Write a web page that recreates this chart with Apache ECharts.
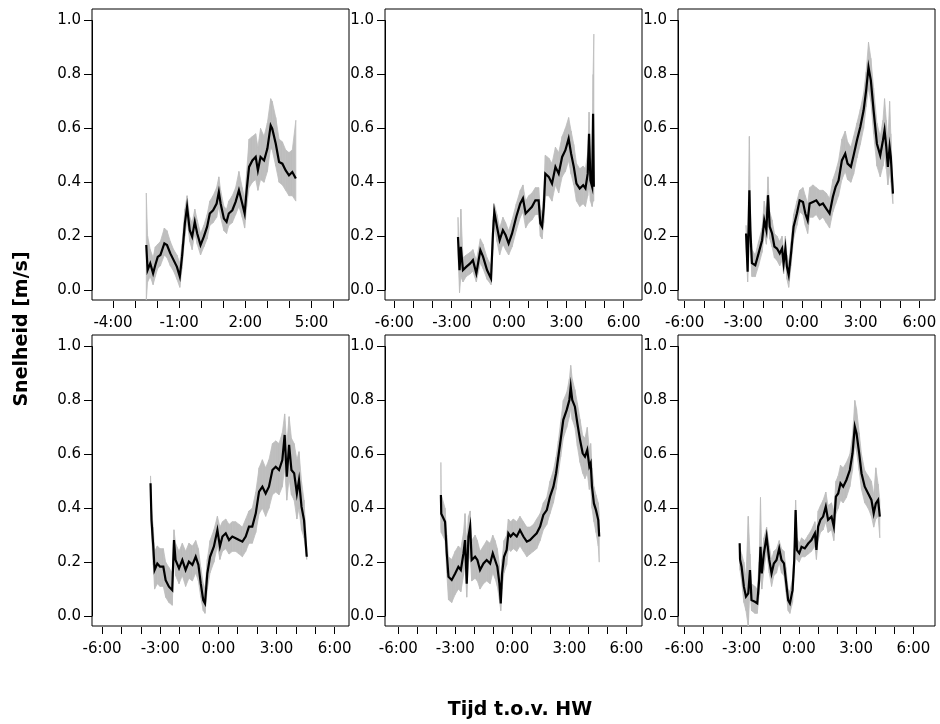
<!DOCTYPE html>
<html>
<head>
<meta charset="utf-8">
<script src="https://cdn.jsdelivr.net/npm/echarts@6/dist/echarts.min.js"></script>
<style>
    html, body {margin: 0; background: #fff}
    #chart {width: 940px; height: 724px}
</style>
</head>
<body>
<div id="chart"></div>
<script>
// tijd t.o.v. HW (uur), gemiddelde snelheid en grijze band (onder/boven) per paneel
var t1 = [-2.49,-2.43,-2.31,-2.18,-2.08,-1.97,-1.85,-1.67,-1.55,-1.40,-1.25,-1.10,-0.97,-0.87,-0.74,-0.64,-0.52,-0.41,-0.29,-0.18,-0.03,0.12,0.27,0.39,0.54,0.70,0.80,0.88,1.03,1.15,1.25,1.41,1.56,1.71,1.86,1.97,2.06,2.17,2.32,2.47,2.57,2.69,2.85,3.00,3.15,3.22,3.38,3.53,3.68,3.83,3.98,4.13,4.29]
var m1 = [0.167,0.074,0.099,0.062,0.093,0.123,0.130,0.173,0.167,0.136,0.111,0.086,0.050,0.123,0.247,0.309,0.222,0.198,0.253,0.210,0.167,0.198,0.235,0.284,0.296,0.321,0.364,0.321,0.265,0.253,0.284,0.296,0.327,0.370,0.321,0.284,0.370,0.457,0.481,0.494,0.444,0.494,0.481,0.525,0.611,0.599,0.543,0.475,0.469,0.444,0.426,0.438,0.414]
var hi1 = [0.36,0.20,0.15,0.12,0.16,0.17,0.18,0.23,0.22,0.18,0.15,0.13,0.10,0.17,0.30,0.35,0.27,0.25,0.30,0.26,0.21,0.24,0.28,0.33,0.35,0.38,0.42,0.37,0.31,0.30,0.33,0.35,0.38,0.44,0.38,0.34,0.44,0.56,0.57,0.58,0.53,0.60,0.57,0.62,0.71,0.70,0.64,0.56,0.55,0.52,0.51,0.52,0.63]
var lo1 = [-0.04,0.03,0.05,0.02,0.05,0.08,0.09,0.13,0.12,0.09,0.07,0.04,0.01,0.08,0.20,0.26,0.18,0.15,0.21,0.17,0.13,0.16,0.19,0.24,0.25,0.27,0.31,0.27,0.22,0.21,0.24,0.25,0.28,0.31,0.27,0.23,0.31,0.38,0.40,0.41,0.37,0.41,0.40,0.44,0.53,0.52,0.46,0.40,0.39,0.37,0.35,0.35,0.33]

var t2 = [-2.67,-2.59,-2.52,-2.41,-2.24,-2.03,-1.89,-1.71,-1.50,-1.36,-1.15,-0.94,-0.84,-0.77,-0.63,-0.49,-0.32,-0.18,-0.02,0.16,0.38,0.59,0.73,0.87,1.03,1.20,1.38,1.55,1.64,1.73,1.82,1.90,2.08,2.25,2.43,2.60,2.78,2.95,3.12,3.25,3.39,3.53,3.70,3.88,4.00,4.12,4.19,4.26,4.35,4.40,4.44]
var m2 = [0.197,0.074,0.160,0.074,0.086,0.099,0.111,0.062,0.148,0.124,0.074,0.043,0.210,0.290,0.235,0.185,0.222,0.204,0.173,0.210,0.272,0.321,0.340,0.284,0.296,0.309,0.333,0.333,0.247,0.235,0.309,0.432,0.420,0.395,0.457,0.432,0.494,0.519,0.562,0.506,0.457,0.395,0.377,0.389,0.377,0.432,0.580,0.407,0.383,0.654,0.383]
var hi2 = [0.27,0.12,0.30,0.12,0.13,0.14,0.15,0.11,0.19,0.17,0.12,0.09,0.26,0.32,0.28,0.23,0.27,0.25,0.22,0.26,0.32,0.37,0.39,0.33,0.35,0.36,0.38,0.38,0.30,0.29,0.37,0.50,0.49,0.47,0.53,0.51,0.57,0.60,0.64,0.59,0.54,0.47,0.45,0.46,0.45,0.51,0.66,0.49,0.47,0.80,0.95]
var lo2 = [0.13,-0.01,0.05,0.03,0.05,0.06,0.07,0.03,0.10,0.08,0.04,0.02,0.15,0.24,0.18,0.13,0.17,0.15,0.13,0.16,0.22,0.27,0.29,0.23,0.25,0.26,0.28,0.28,0.20,0.19,0.25,0.35,0.35,0.33,0.39,0.36,0.42,0.44,0.48,0.43,0.39,0.33,0.31,0.32,0.31,0.35,0.40,0.33,0.31,0.33,0.33]

var t3 = [-2.86,-2.78,-2.69,-2.64,-2.56,-2.39,-2.22,-2.04,-1.93,-1.82,-1.74,-1.65,-1.53,-1.41,-1.28,-1.14,-1.02,-0.94,-0.85,-0.77,-0.68,-0.56,-0.43,-0.26,-0.12,0.05,0.17,0.29,0.39,0.56,0.73,0.90,1.07,1.24,1.41,1.58,1.72,1.87,2.04,2.21,2.33,2.50,2.64,2.81,2.98,3.15,3.28,3.40,3.52,3.66,3.83,4.00,4.14,4.22,4.31,4.39,4.48,4.54,4.65]
var m3 = [0.21,0.068,0.37,0.22,0.10,0.092,0.136,0.185,0.259,0.222,0.352,0.235,0.21,0.161,0.154,0.136,0.154,0.099,0.154,0.086,0.056,0.136,0.235,0.284,0.333,0.327,0.284,0.259,0.321,0.327,0.333,0.315,0.321,0.302,0.284,0.346,0.383,0.407,0.481,0.506,0.469,0.457,0.50,0.556,0.605,0.667,0.741,0.827,0.778,0.667,0.543,0.50,0.556,0.593,0.531,0.457,0.531,0.494,0.358]
var hi3 = [0.24,0.15,0.57,0.30,0.15,0.13,0.18,0.23,0.33,0.28,0.42,0.29,0.26,0.21,0.20,0.18,0.20,0.15,0.20,0.13,0.10,0.18,0.28,0.33,0.37,0.38,0.35,0.32,0.38,0.39,0.38,0.37,0.37,0.36,0.34,0.41,0.44,0.48,0.56,0.59,0.55,0.53,0.57,0.62,0.67,0.73,0.81,0.92,0.86,0.75,0.62,0.57,0.63,0.71,0.63,0.55,0.70,0.58,0.38]
var lo3 = [0.16,0.03,0.20,0.16,0.05,0.05,0.09,0.14,0.21,0.17,0.27,0.19,0.16,0.12,0.11,0.09,0.11,0.06,0.11,0.04,0.01,0.09,0.19,0.24,0.29,0.28,0.24,0.21,0.27,0.27,0.28,0.26,0.27,0.25,0.23,0.29,0.32,0.35,0.41,0.44,0.41,0.40,0.43,0.49,0.54,0.60,0.68,0.75,0.70,0.58,0.46,0.42,0.46,0.50,0.45,0.39,0.44,0.40,0.32]

var t4 = [-3.50,-3.45,-3.36,-3.29,-3.15,-3.01,-2.84,-2.72,-2.55,-2.38,-2.29,-2.21,-2.03,-1.86,-1.69,-1.52,-1.34,-1.17,-1.03,-0.91,-0.78,-0.69,-0.57,-0.43,-0.23,-0.05,0.08,0.21,0.38,0.55,0.72,0.89,1.07,1.24,1.41,1.58,1.75,1.93,2.10,2.27,2.44,2.61,2.79,2.96,3.13,3.30,3.42,3.53,3.65,3.77,3.91,4.05,4.16,4.29,4.42,4.56]
var m4 = [0.493,0.356,0.26,0.171,0.195,0.183,0.183,0.133,0.109,0.096,0.282,0.208,0.177,0.208,0.171,0.202,0.19,0.220,0.19,0.121,0.059,0.047,0.158,0.22,0.258,0.319,0.258,0.295,0.307,0.282,0.295,0.289,0.282,0.276,0.295,0.332,0.332,0.381,0.462,0.480,0.455,0.480,0.542,0.554,0.542,0.579,0.672,0.517,0.635,0.542,0.530,0.455,0.505,0.406,0.356,0.220]
var hi4 = [0.52,0.40,0.33,0.24,0.26,0.25,0.25,0.20,0.18,0.16,0.32,0.27,0.24,0.27,0.24,0.27,0.26,0.28,0.25,0.18,0.12,0.10,0.21,0.28,0.32,0.37,0.33,0.35,0.36,0.34,0.35,0.35,0.34,0.33,0.36,0.39,0.40,0.46,0.55,0.58,0.55,0.58,0.64,0.65,0.64,0.68,0.75,0.64,0.74,0.66,0.64,0.58,0.61,0.50,0.43,0.25]
var lo4 = [0.47,0.30,0.19,0.10,0.12,0.11,0.11,0.07,0.05,0.04,0.22,0.15,0.12,0.15,0.11,0.14,0.13,0.16,0.13,0.07,0.02,0.01,0.10,0.16,0.20,0.26,0.21,0.24,0.25,0.23,0.24,0.24,0.23,0.22,0.24,0.27,0.27,0.31,0.38,0.40,0.37,0.40,0.45,0.46,0.45,0.48,0.55,0.43,0.51,0.45,0.43,0.36,0.40,0.32,0.29,0.21]

var t5 = [-3.76,-3.74,-3.54,-3.45,-3.36,-3.19,-3.01,-2.84,-2.71,-2.57,-2.49,-2.40,-2.31,-2.22,-2.14,-1.96,-1.84,-1.70,-1.52,-1.35,-1.17,-1.03,-0.91,-0.79,-0.68,-0.61,-0.54,-0.44,-0.30,-0.21,-0.09,0.05,0.23,0.40,0.58,0.76,0.93,1.11,1.28,1.46,1.63,1.81,1.98,2.16,2.30,2.42,2.54,2.68,2.86,3.00,3.07,3.15,3.29,3.42,3.56,3.70,3.82,3.94,4.05,4.12,4.19,4.29,4.40,4.52,4.57]
var m5 = [0.449,0.380,0.350,0.233,0.146,0.134,0.158,0.183,0.171,0.233,0.282,0.120,0.295,0.332,0.208,0.220,0.208,0.171,0.195,0.208,0.195,0.233,0.208,0.183,0.120,0.047,0.158,0.220,0.245,0.307,0.295,0.307,0.295,0.319,0.295,0.276,0.282,0.295,0.307,0.332,0.375,0.393,0.443,0.480,0.530,0.592,0.654,0.728,0.765,0.802,0.851,0.802,0.777,0.715,0.654,0.604,0.592,0.617,0.555,0.567,0.480,0.418,0.393,0.356,0.295]
var hi5 = [0.57,0.45,0.40,0.30,0.22,0.21,0.24,0.26,0.25,0.31,0.38,0.27,0.37,0.39,0.28,0.30,0.28,0.24,0.26,0.28,0.27,0.30,0.28,0.25,0.19,0.12,0.21,0.28,0.30,0.36,0.35,0.36,0.35,0.37,0.35,0.33,0.33,0.34,0.36,0.38,0.42,0.44,0.50,0.54,0.59,0.65,0.72,0.80,0.83,0.88,0.93,0.88,0.84,0.79,0.73,0.67,0.66,0.70,0.62,0.64,0.55,0.48,0.45,0.42,0.38]
var lo5 = [0.33,0.31,0.28,0.16,0.06,0.05,0.08,0.10,0.09,0.15,0.19,0.07,0.20,0.23,0.13,0.14,0.13,0.10,0.12,0.13,0.12,0.16,0.14,0.11,0.06,0.02,0.10,0.16,0.19,0.25,0.24,0.25,0.24,0.26,0.24,0.22,0.23,0.24,0.25,0.28,0.32,0.34,0.38,0.42,0.47,0.53,0.59,0.66,0.70,0.74,0.77,0.73,0.70,0.63,0.57,0.53,0.51,0.53,0.47,0.48,0.40,0.35,0.31,0.26,0.20]

var t6 = [-3.10,-3.08,-3.00,-2.88,-2.77,-2.65,-2.56,-2.48,-2.30,-2.18,-2.08,-2.01,-1.94,-1.83,-1.69,-1.55,-1.43,-1.31,-1.17,-1.03,-0.91,-0.78,-0.68,-0.56,-0.47,-0.33,-0.24,-0.17,-0.10,0.02,0.14,0.31,0.49,0.66,0.84,0.92,1.01,1.13,1.27,1.41,1.53,1.71,1.83,1.94,2.06,2.18,2.32,2.49,2.67,2.81,2.93,3.02,3.16,3.28,3.45,3.63,3.80,3.92,4.03,4.15,4.24]
var m6 = [0.270,0.210,0.183,0.109,0.072,0.084,0.171,0.059,0.053,0.047,0.133,0.257,0.158,0.233,0.295,0.208,0.158,0.195,0.208,0.251,0.208,0.195,0.133,0.059,0.047,0.096,0.208,0.393,0.245,0.233,0.257,0.251,0.269,0.282,0.307,0.245,0.332,0.357,0.369,0.406,0.357,0.369,0.332,0.443,0.455,0.493,0.480,0.505,0.542,0.604,0.703,0.678,0.604,0.530,0.480,0.455,0.431,0.381,0.418,0.431,0.369]
var hi6 = [0.27,0.25,0.23,0.20,0.14,0.37,0.23,0.12,0.11,0.10,0.20,0.44,0.22,0.29,0.33,0.26,0.21,0.24,0.25,0.28,0.25,0.24,0.18,0.10,0.09,0.14,0.25,0.43,0.29,0.27,0.29,0.28,0.30,0.32,0.35,0.30,0.39,0.41,0.43,0.46,0.41,0.42,0.39,0.50,0.52,0.56,0.55,0.57,0.60,0.67,0.80,0.77,0.68,0.60,0.54,0.52,0.50,0.45,0.55,0.49,0.43]
var lo6 = [0.20,0.17,0.13,0.05,0.02,-0.04,0.10,0.02,0.01,0.01,0.08,0.18,0.10,0.17,0.24,0.16,0.11,0.15,0.16,0.20,0.16,0.15,0.09,0.02,0.01,0.05,0.16,0.32,0.21,0.20,0.22,0.22,0.23,0.24,0.26,0.21,0.28,0.31,0.32,0.35,0.31,0.32,0.28,0.38,0.40,0.43,0.42,0.44,0.48,0.54,0.64,0.61,0.54,0.47,0.42,0.40,0.37,0.33,0.36,0.37,0.29]

var yTicks = [0, 0.2, 0.4, 0.6, 0.8, 1.0]

//paneel-indeling: box links/boven in px, x-bereik en eerste/laatste tick
var panels = [
    {t: t1, m: m1, lo: lo1, hi: hi1, left: 92,  top: 9,   xMin: -4.95, xMax: 6.70, tickFrom: -4, tickTo: 6},
    {t: t2, m: m2, lo: lo2, hi: hi2, left: 385, top: 9,   xMin: -6.49, xMax: 6.96, tickFrom: -6, tickTo: 6},
    {t: t3, m: m3, lo: lo3, hi: hi3, left: 678, top: 9,   xMin: -6.34, xMax: 6.80, tickFrom: -6, tickTo: 6},
    {t: t4, m: m4, lo: lo4, hi: hi4, left: 92,  top: 335, xMin: -6.52, xMax: 6.74, tickFrom: -6, tickTo: 6},
    {t: t5, m: m5, lo: lo5, hi: hi5, left: 385, top: 335, xMin: -6.70, xMax: 6.82, tickFrom: -6, tickTo: 6},
    {t: t6, m: m6, lo: lo6, hi: hi6, left: 678, top: 335, xMin: -6.33, xMax: 7.13, tickFrom: -6, tickTo: 6}
]

var boxW = 257, boxH = 291
var yMin = -0.037, yMax = 1.043
var font = 'DejaVu Sans'

var grid = [], xAxis = [], yAxis = [], series = []

panels.forEach((p, i) => {
    var g = i * 2
    var pxPerH = boxW / (p.xMax - p.xMin)
    var pxPerV = boxH / (yMax - yMin)
    var axLeft = p.left + (p.tickFrom - p.xMin) * pxPerH
    var axTop = p.top + (yMax - 1) * pxPerV

    //plotbox
    grid.push({left: p.left, top: p.top, width: boxW, height: boxH, show: true, borderColor: '#000', borderWidth: 1, backgroundColor: 'transparent'})
    //assen in R-stijl (y alleen van 0 tot 1)
    grid.push({left: axLeft, top: axTop, width: (p.tickTo - p.tickFrom) * pxPerH, height: pxPerV})

    xAxis.push({gridIndex: g, type: 'value', min: p.xMin, max: p.xMax, show: false})
    yAxis.push({gridIndex: g, type: 'value', min: yMin, max: yMax, show: false})

    xAxis.push({
        gridIndex: g + 1, type: 'value', min: p.tickFrom, max: p.tickTo, interval: 1,
        position: 'bottom',
        offset: (p.top + boxH) - (axTop + pxPerV) + 1,
        axisLine: {show: false, onZero: false},
        axisTick: {show: true, length: 7, lineStyle: {color: '#000', width: 1}},
        splitLine: {show: false},
        axisLabel: {
            margin: 15, color: '#000', fontFamily: font, fontSize: 15,
            formatter: (v) => (Math.round(v - p.tickFrom) % 3 === 0 ? Math.round(v) + ':00' : '')
        }
    })
    yAxis.push({
        gridIndex: g + 1, type: 'value', min: yTicks[0], max: yTicks[yTicks.length - 1], interval: 0.2,
        position: 'left',
        offset: axLeft - p.left,
        axisLine: {show: true, onZero: false, lineStyle: {color: '#000', width: 1}},
        axisTick: {show: true, length: 8, lineStyle: {color: '#000', width: 1}},
        splitLine: {show: false},
        axisLabel: {margin: 11, color: '#000', fontFamily: font, fontSize: 15, formatter: (v) => v.toFixed(1)}
    })

    //grijze band
    var seg = []
    for (var k = 0; k < p.t.length - 1; k++) {
        seg.push([p.t[k], p.lo[k], p.hi[k], p.t[k + 1], p.lo[k + 1], p.hi[k + 1]])
    }
    series.push({
        type: 'custom', xAxisIndex: g, yAxisIndex: g, clip: true, silent: true,
        encode: {x: [0, 3], y: [1, 2, 4, 5]},
        data: seg,
        renderItem: (params, api) => {
            var a = api.coord([api.value(0), api.value(1)])
            var b = api.coord([api.value(3), api.value(4)])
            var c = api.coord([api.value(3), api.value(5)])
            var d = api.coord([api.value(0), api.value(2)])
            return {
                type: 'polygon',
                shape: {points: [a, b, c, d]},
                style: {fill: '#bebebe', stroke: '#bebebe', lineWidth: 0.8}
            }
        }
    })

    //gemiddelde
    series.push({
        type: 'line', xAxisIndex: g, yAxisIndex: g, clip: true, silent: true,
        showSymbol: false,
        lineStyle: {color: '#000', width: 2.2, join: 'miter'},
        data: p.t.map((t, k) => [t, p.m[k]])
    })
})

var chart = echarts.init(document.getElementById('chart'), null, {renderer: 'canvas'})
chart.setOption({
    animation: false,
    backgroundColor: '#fff',
    grid: grid,
    xAxis: xAxis,
    yAxis: yAxis,
    series: series,
    graphic: [
        {type: 'text', x: 520, y: 710, style: {text: 'Tijd t.o.v. HW', fill: '#000', font: 'bold 19px "DejaVu Sans"', textAlign: 'center', textVerticalAlign: 'middle'}},
        {type: 'text', x: 22, y: 329, rotation: Math.PI / 2, style: {text: 'Snelheid [m/s]', fill: '#000', font: 'bold 19px "DejaVu Sans"', textAlign: 'center', textVerticalAlign: 'middle'}}
    ]
})
</script>
</body>
</html>
